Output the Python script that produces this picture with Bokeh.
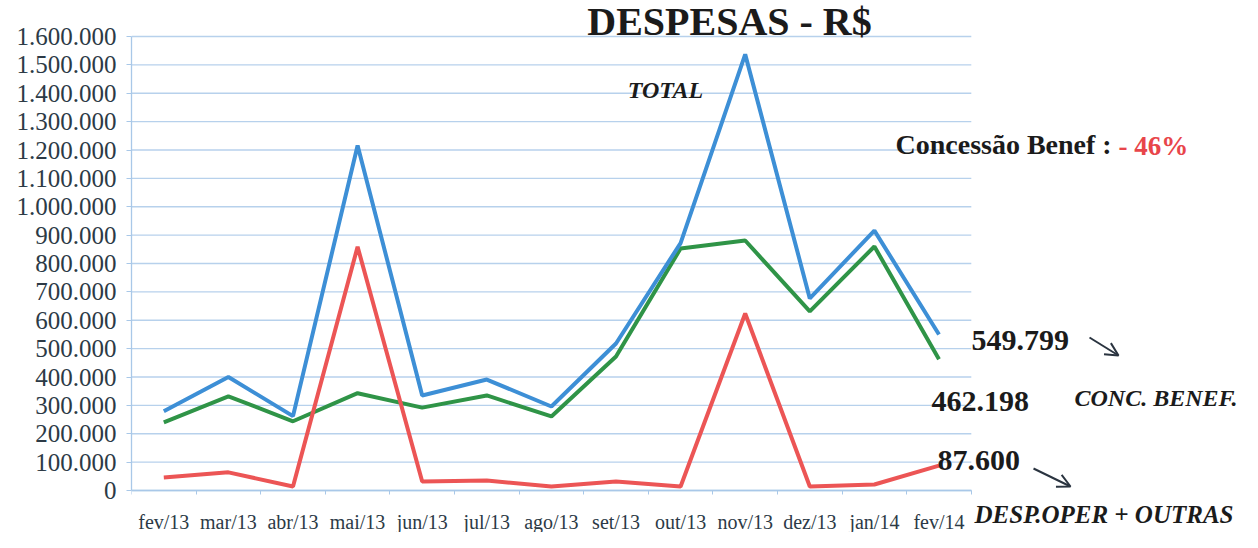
from bokeh.plotting import figure
from bokeh.models import (Label, Arrow, OpenHead, FixedTicker,
                          CustomJSTickFormatter, ColumnDataSource, Range1d)
from bokeh.embed import file_html
from bokeh.resources import INLINE

months = ["fev/13", "mar/13", "abr/13", "mai/13", "jun/13", "jul/13", "ago/13",
          "set/13", "out/13", "nov/13", "dez/13", "jan/14", "fev/14"]
total = [279000, 400000, 262000, 1216000, 335000, 391000, 296000,
         518000, 872000, 1537000, 677000, 916000, 549799]
conc_benef = [240000, 332000, 244000, 343000, 292000, 335000, 261000,
              472000, 853000, 881000, 631000, 860000, 462198]
desp_oper = [46000, 64000, 14000, 859000, 32000, 35000, 14000,
             32000, 14000, 624000, 14000, 21000, 87600]
y_ticks = [0, 100000, 200000, 300000, 400000, 500000, 600000, 700000, 800000,
           900000, 1000000, 1100000, 1200000, 1300000, 1400000, 1500000, 1600000]

W, H = 1242, 532
OX, OY = 6, 7         # shift of the reference layout so it fits the canvas
LEFT = 137 - OX       # width of the y-axis panel
UNIT = 64.6           # pixels per category
PX_PER_VAL = 454 / 1600000
ZERO_Y = 497 - OY     # canvas y of value 0
SERIF = "Liberation Serif"

n = len(months)
xs = list(range(n))
x_range = Range1d(-0.5, -0.5 + (W - LEFT) / UNIT)
y_range = Range1d(-(H - ZERO_Y) / PX_PER_VAL, ZERO_Y / PX_PER_VAL)

p = figure(width=W, height=H, x_range=x_range, y_range=y_range,
           output_backend="svg", toolbar_location=None,
           min_border_left=LEFT, min_border_top=0,
           min_border_right=0, min_border_bottom=0)
p.outline_line_color = None
p.background_fill_color = "white"
p.border_fill_color = "white"
p.xgrid.visible = False
p.ygrid.visible = False

# horizontal gridlines over the category span only
p.segment(x0=[-0.5] * len(y_ticks), x1=[n - 0.5] * len(y_ticks), y0=y_ticks, y1=y_ticks,
          line_color="#b7d1ec", line_width=1.3)

src = ColumnDataSource(dict(x=xs, total=total, conc=conc_benef, desp=desp_oper))
p.line("x", "conc", source=src, line_color="#2f9447", line_width=4)
p.line("x", "total", source=src, line_color="#3d8fd6", line_width=4)
p.line("x", "desp", source=src, line_color="#ec5555", line_width=4)

# y axis
p.yaxis.ticker = FixedTicker(ticks=y_ticks)
p.yaxis.bounds = (0, y_ticks[-1])
p.yaxis.formatter = CustomJSTickFormatter(
    code="return Math.round(tick).toString().replace(/\\B(?=(\\d{3})+(?!\\d))/g, '.');")
p.yaxis.major_tick_in = 0
p.yaxis.major_tick_out = 5
p.yaxis.major_label_text_font_size = "25px"
p.yaxis.major_label_standoff = 10

# x axis fixed at value 0
p.xaxis.fixed_location = 0
p.xaxis.bounds = (-0.5, n - 0.5)
p.xaxis.ticker = FixedTicker(ticks=xs, minor_ticks=[i - 0.5 for i in range(n + 1)])
p.xaxis.major_label_overrides = {i: m for i, m in enumerate(months)}
p.xaxis.major_tick_in = 0
p.xaxis.major_tick_out = 0
p.xaxis.minor_tick_in = 0
p.xaxis.minor_tick_out = 4
p.xaxis.major_label_text_font_size = "20px"
p.xaxis.major_label_standoff = 16

for ax in (p.xaxis, p.yaxis):
    ax.axis_line_color = "#a9c8e8"
    ax.axis_line_width = 1.3
    ax.major_tick_line_color = "#a9c8e8"
    ax.minor_tick_line_color = "#a9c8e8"
    ax.major_label_text_font = SERIF
    ax.major_label_text_color = "#2c3a46"
p.yaxis.minor_tick_line_color = None


def sx(x):
    return x - OX - LEFT


def sy(y):
    return H - (y - OY)


def lab(text, x, y, size, color="#1b1b1b", style="bold", align="left"):
    p.add_layout(Label(x=sx(x), y=sy(y), x_units="screen", y_units="screen",
                       text=text, text_font=SERIF, text_font_size=size,
                       text_font_style=style, text_color=color,
                       text_align=align, text_baseline="middle"))


def fmt(v):
    return f"{v:,.0f}".replace(",", ".")


lab("DESPESAS - R$", 735, 28, "40px", align="center")
lab("TOTAL", 671, 96, "24px", style="bold italic", align="center")
lab("Concessão  Benef :", 901, 151, "28px")
lab("- 46%", 1124, 152, "27px", color="#e8454a")
lab(fmt(total[-1]), 977, 347, "30px")
lab(fmt(conc_benef[-1]), 937, 408, "30px")
lab("CONC. BENEF.", 1080, 404, "24px", style="bold italic")
lab(fmt(desp_oper[-1]), 943, 467, "30px")
lab("DESP.OPER + OUTRAS", 980, 521, "25px", style="bold italic")

for (x0, y0, x1, y1) in [(1095, 344, 1124, 362), (1039, 475, 1076, 493)]:
    p.add_layout(Arrow(x_start=sx(x0), y_start=sy(y0), x_end=sx(x1), y_end=sy(y1),
                       start_units="screen", end_units="screen",
                       line_color="#2a3440", line_width=2,
                       end=OpenHead(size=13, line_color="#2a3440", line_width=2)))

open("out.html", "w").write(file_html(p, INLINE))
